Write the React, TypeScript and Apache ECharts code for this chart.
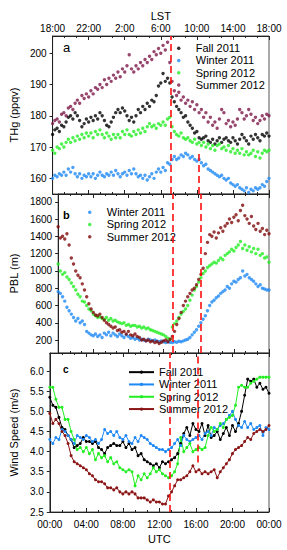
import React, { useEffect, useRef } from "react";
import * as echarts from "echarts";

// time step (hours) of the scatter panels (a, b) and of the wind-speed panel (c)
const STEP_AB = 0.25;
const STEP_C = 1 / 3;

const utcLabels = ["00:00", "04:00", "08:00", "12:00", "16:00", "20:00", "00:00"];
const lstLabels = ["18:00", "22:00", "2:00", "6:00", "10:00", "14:00", "18:00"];
const thgTicks = [160, 170, 180, 190, 200];
const pblTicks = [200, 400, 600, 800, 1000, 1200, 1400, 1600, 1800];
const wsTicks = [2.5, 3.0, 3.5, 4.0, 4.5, 5.0, 5.5, 6.0];
const dashedUTC = [13.1, 16.2];

// Panel a: THg (ppqv)
const thgFall = [
  174, 175.5, 176, 175, 177, 176.5, 178, 179.5, 180, 179, 181, 180, 178.5, 176.5, 177.5, 179,
  178, 179.5, 178.5, 180, 179, 181, 180, 178.5, 177, 176.5, 178, 179.5, 181, 182, 181, 182.5,
  181.5, 180, 178.5, 179.5, 178, 180, 182, 181, 183, 182, 184, 183, 185, 184.5, 186.5, 189.5,
  190.5, 193.5, 191, 192, 190.5, 186, 184.5, 183, 182, 181, 179.5, 180, 178, 177, 176, 174.5,
  175, 173, 172.5, 173, 173.5, 172, 171.5, 172.5, 171, 172, 173, 171.5, 172.5, 173, 172, 171.5,
  173, 172, 171, 172.5, 174, 173, 172, 171, 173.5, 172.5, 174, 173, 172, 174, 173.5, 174.5, 173.5,
];
const thgWinter = [
  160, 161, 160.5, 161.5, 161, 162, 161, 163, 162, 163.5, 161.5, 160.5, 161.5, 160, 161, 160.5,
  161.5, 160.5, 161.5, 160, 161, 162, 161, 160.5, 161.5, 161, 162, 161, 162.5, 161.5, 160.5, 161.5,
  162, 161, 162.5, 161.5, 163, 161.5, 160.5, 161, 160, 161, 159.5, 160.5, 161.5, 160, 162, 163,
  162, 163.5, 162.5, 165, 164.5, 166, 167, 166, 166.5, 167.5, 167, 168, 167.5, 166.5, 167, 166,
  165.5, 166, 165, 164, 164.5, 163, 162.5, 162, 161.5, 161, 160.5, 161, 160, 159.5, 160, 158.5,
  158, 157.5, 158, 157, 156.5, 156, 157, 155.5, 156.5, 156, 157, 156.5, 157, 158, 157.5, 159, 160,
];
const thgSpring = [
  169, 168, 170, 169.5, 171, 170, 171.5, 172.5, 171.5, 173, 172, 173.5, 172.5, 174, 173, 174.5,
  173.5, 174.5, 173, 175, 174, 175.5, 174, 173, 174.5, 173.5, 172.5, 174, 173, 174, 173, 175,
  174, 175.5, 174, 173.5, 175, 174, 175.5, 174.5, 176, 175, 176.5, 177.5, 176.5, 177, 176, 177.5,
  177, 178, 177, 179, 179.5, 176.5, 175, 174, 173.5, 174.5, 173, 172.5, 173, 172, 171.5, 172.5,
  171, 171.5, 170.5, 171.5, 170, 171, 169.5, 170.5, 169, 170.5, 171, 169.5, 170, 169, 170.5, 168.5,
  169.5, 168, 169, 168, 169.5, 167.5, 168.5, 167.5, 168, 169, 167, 168.5, 166.5, 168, 169, 168.5, 169,
];
const thgSummer = [
  177.5, 178.5, 179, 178, 180.5, 181, 180, 182.5, 183, 182, 184, 185, 184, 186.5, 185.5, 187,
  186, 188, 187, 189, 188.5, 190, 189, 191.5, 190, 192, 191, 193, 192, 194, 192.5, 195,
  194, 196, 199.5, 195, 194, 196, 195, 197, 196, 198, 197, 199, 198, 200.5, 199.5, 201.5,
  200, 202.5, 201, 203.5, 197, 191, 188, 186.5, 187.5, 185, 186, 184, 185, 183, 184.5, 182,
  183.5, 181, 182, 179.5, 181, 178, 179.5, 177, 178, 176, 179, 182, 181, 177.5, 178.5, 176.5,
  178, 177, 179, 182, 181, 179, 180, 182, 180.5, 178.5, 179.5, 177.5, 178.5, 180, 179, 180.5, 180,
];

// Panel b: PBL (m)
const pblWinter = [
  760, 740, 700, 650, 580, 540, 500, 460, 420, 450, 400, 420, 380, 300, 280, 260,
  250, 270, 240, 260, 230, 280, 260, 290, 250, 280, 260, 240, 270, 250, 230, 260,
  240, 220, 230, 210, 220, 200, 210, 200, 190, 210, 200, 190, 200, 190, 180, 190,
  180, 170, 180, 175, 170, 180, 175, 185, 180, 190, 200, 210, 230, 260, 290, 320,
  360, 400, 440, 480, 540, 600, 640, 660, 690, 710, 740, 760, 780, 820, 800, 850,
  880, 870, 900, 920, 1000, 940, 960, 920, 900, 880, 850, 820, 840, 800, 790, 780, 780,
];
const pblSpring = [
  1080, 1000, 960, 980, 930, 900, 860, 820, 780, 730, 700, 650, 640, 600, 560, 540,
  500, 480, 460, 470, 450, 440, 460, 430, 450, 420, 430, 410, 400, 390, 400, 370,
  380, 360, 370, 370, 350, 360, 340, 350, 330, 340, 320, 310, 300, 290, 280, 270,
  260, 240, 220, 210, 350, 390, 420, 460, 500, 530, 560, 600, 660, 720, 780, 820,
  870, 920, 970, 1000, 1040, 1060, 1080, 1100, 1090, 1120, 1150, 1130, 1180, 1200, 1220, 1250,
  1230, 1270, 1300, 1340, 1260, 1300, 1240, 1280, 1220, 1260, 1200, 1250, 1180, 1200, 1150, 1160, 1100,
];
const pblSummer = [
  1510, 1380, 1400, 1370, 1430, 1300, 1150, 1080, 1000, 950, 920, 850, 780, 700, 620, 560,
  520, 490, 480, 500, 460, 430, 400, 380, 360, 340, 350, 310, 320, 290, 300, 270,
  300, 260, 250, 270, 240, 230, 200, 210, 190, 200, 180, 190, 170, 180, 160, 175,
  190, 200, 180, 210, 240, 300, 380, 450, 520, 600, 650, 700, 740, 780, 800, 840,
  900, 960, 1030, 1200, 1330, 1420, 1400, 1450, 1380, 1440, 1500, 1460, 1520, 1550, 1600, 1560,
  1620, 1650, 1580, 1700, 1760, 1640, 1600, 1550, 1630, 1520, 1480, 1550, 1460, 1490, 1420, 1470, 1430,
];

// Panel c: Wind speed (m/s)
const wsFall = [
  5.35, 5.15, 5.1, 4.85, 4.6, 4.55, 4.4, 4.3, 4.1, 4.15, 4.2, 4.35, 4.25, 4.25, 4.2, 4.25,
  4.1, 4.05, 3.95, 4.1, 4.15, 4.2, 4.15, 4.15, 4.25, 4.1, 4.2, 4.05, 4.1, 3.9, 3.95, 3.8,
  3.75, 3.7, 3.65, 3.7, 3.6, 3.75, 3.7, 3.75, 3.8, 3.85, 3.95, 4.2, 4.45, 4.6, 4.4, 4.7,
  4.55, 4.5, 4.7, 4.4, 4.65, 4.35, 4.4, 4.5, 4.3, 4.45, 4.6, 4.4, 4.65, 4.5, 4.7, 5.0,
  5.4, 5.8, 5.75, 5.8, 5.6, 5.7, 5.55, 5.6, 5.45,
];
const wsWinter = [
  4.3, 4.2, 4.35, 4.3, 4.55, 4.5, 4.4, 4.3, 4.2, 4.4, 4.35, 4.3, 4.4, 4.35, 4.25, 4.3,
  4.2, 4.3, 4.55, 4.45, 4.5, 4.4, 4.5, 4.35, 4.3, 4.4, 4.25, 4.2, 4.35, 4.25, 4.4, 4.35,
  4.3, 4.2, 4.15, 4.1, 4.05, 4.05, 4.0, 4.05, 4.1, 4.2, 4.3, 4.15, 4.4, 4.3, 4.25, 4.3,
  4.35, 4.4, 4.3, 4.45, 4.5, 4.4, 4.6, 4.55, 4.65, 4.7, 4.8, 4.9, 5.0, 4.8, 4.65, 4.6,
  4.75, 4.6, 4.7, 4.55, 4.6, 4.65, 4.4, 4.6, 4.55,
];
const wsSpring = [
  5.6, 5.6, 5.3, 5.1, 5.1, 4.8, 4.8, 4.5, 4.3, 4.05, 4.1, 4.0, 4.1, 3.95, 4.05, 3.8,
  3.95, 3.85, 3.9, 3.75, 3.85, 3.7, 3.75, 3.6, 3.55, 3.5, 3.55, 3.5, 3.15, 3.4, 3.3, 3.45,
  3.35, 3.45, 3.6, 3.5, 3.55, 3.45, 3.4, 3.35, 3.4, 3.5, 3.7, 4.35, 4.0, 4.1, 4.2, 4.0,
  4.05, 4.1, 4.05, 4.1, 4.4, 4.6, 4.5, 4.55, 4.7, 4.6, 4.8, 4.85, 4.9, 5.15, 5.6, 5.65,
  5.6, 5.6, 5.7, 5.75, 5.8, 5.85, 5.85, 5.85, 5.85,
];
const wsSummer = [
  4.95, 4.7, 4.8, 4.7, 4.5, 4.4, 4.2, 3.9, 3.75, 3.7, 3.65, 3.6, 3.55, 3.45, 3.4, 3.3,
  3.25, 3.25, 3.2, 3.1, 3.1, 3.05, 3.1, 3.0, 2.95, 3.0, 2.95, 3.0, 2.95, 2.85, 2.85, 2.85,
  2.8, 2.75, 2.8, 2.75, 2.75, 2.7, 2.7, 2.9, 3.0, 3.15, 3.3, 3.3, 3.35, 3.4, 3.5, 3.65,
  3.5, 3.55, 3.45, 3.5, 3.45, 3.5, 3.55, 3.35, 3.5, 3.6, 3.7, 3.8, 3.95, 4.05, 4.1, 4.15,
  4.25, 4.35, 4.3, 4.45, 4.5, 4.55, 4.5, 4.55, 4.65,
];

const FONT = 'Arial, "Liberation Sans", sans-serif';
const C_FALL = "#000000";
const C_WINTER = "#1e88f5";
const C_SPRING = "#22ee22";
const C_SUMMER_A = "#7d1848";
const C_SUMMER_B = "#7f0a0a";
const C_SUMMER_C = "#8b1414";

const toXY = (arr: number[], step: number) => arr.map((v, i) => [i * step, v]);

export default function App() {
  const ref = useRef<HTMLDivElement>(null);
  useEffect(() => {
    document.body.style.margin = "0";
    if (!ref.current) return;
    const chart = echarts.init(ref.current, null, { renderer: "svg" });

    const L = 48;
    const W = 221;
    const grids = [
      { top: 36, height: 158 },
      { top: 194, height: 159 },
      { top: 353, height: 159 },
    ];
    const ranges = [
      { min: 155, max: 205.5, ticks: thgTicks, name: "THg (ppqv)", gap: 28, fmt: (v: number) => String(v) },
      { min: 50, max: 1890, ticks: pblTicks, name: "PBL (m)", gap: 33, fmt: (v: number) => String(v) },
      { min: 2.5, max: 6.45, ticks: wsTicks, name: "Wind Speed (m/s)", gap: 26, fmt: (v: number) => v.toFixed(1) },
    ];

    const xAxes: any[] = [];
    grids.forEach((_, i) => {
      const base = {
        gridIndex: i,
        type: "value",
        min: 0,
        max: 24,
        interval: 4,
        splitLine: { show: false },
        axisLine: { show: true, lineStyle: { color: "#222", width: 1 } },
        axisTick: { show: true, inside: true, length: 4, lineStyle: { color: "#222" } },
        minorTick: { show: true, splitNumber: 3, length: 2, lineStyle: { color: "#222" } },
      };
      xAxes.push({
        ...base,
        position: "bottom",
        axisLabel: {
          show: i === 2,
          margin: 7,
          fontSize: 10,
          fontFamily: FONT,
          color: "#000",
          formatter: (v: number) => utcLabels[Math.round(v / 4)],
        },
        name: i === 2 ? "UTC" : "",
        nameLocation: "middle",
        nameGap: 21,
        nameTextStyle: { fontSize: 11, fontFamily: FONT, color: "#000" },
      });
      xAxes.push({
        ...base,
        position: "top",
        axisLabel: {
          show: i === 0,
          margin: 3,
          fontSize: 10,
          fontFamily: FONT,
          color: "#000",
          formatter: (v: number) => lstLabels[Math.round(v / 4)],
        },
        name: i === 0 ? "LST" : "",
        nameLocation: "middle",
        nameGap: 15,
        nameTextStyle: { fontSize: 11, fontFamily: FONT, color: "#000" },
      });
    });

    const yAxes = ranges.map((r, i) => ({
      gridIndex: i,
      type: "value",
      min: r.min,
      max: r.max,
      splitLine: { show: false },
      axisLine: { show: true, lineStyle: { color: "#222" } },
      axisTick: { show: true, length: 3, customValues: r.ticks, lineStyle: { color: "#222" } },
      axisLabel: {
        customValues: r.ticks,
        margin: 6,
        fontSize: 10,
        fontFamily: FONT,
        color: "#000",
        formatter: r.fmt,
      },
      name: r.name,
      nameLocation: "middle",
      nameGap: r.gap,
      nameTextStyle: { fontSize: 11, fontFamily: FONT, color: "#000" },
    }));

    const dashStyle = { color: "#ff1010", type: [7, 4], width: 1.6 };
    const scatter = (name: string, data: number[], color: string, gi: number, extra: any = {}) => ({
      name,
      type: "scatter",
      xAxisIndex: gi * 2,
      yAxisIndex: gi,
      symbol: "circle",
      symbolSize: 3.4,
      itemStyle: { color },
      data: toXY(data, STEP_AB),
      ...extra,
    });
    const line = (name: string, data: number[], color: string, extra: any = {}) => ({
      name,
      type: "line",
      xAxisIndex: 4,
      yAxisIndex: 2,
      symbol: "circle",
      symbolSize: 3,
      showSymbol: true,
      lineStyle: { color, width: 1 },
      itemStyle: { color },
      data: toXY(data, STEP_C),
      ...extra,
    });
    const mkLine = (data: any[]) => ({
      markLine: { silent: true, symbol: "none", label: { show: false }, lineStyle: dashStyle, data },
    });

    const series = [
      scatter("a|Summer 2012", thgSummer, C_SUMMER_A, 0),
      scatter("a|Fall 2011", thgFall, C_FALL, 0),
      scatter("a|Spring 2012", thgSpring, C_SPRING, 0),
      scatter(
        "a|Winter 2011",
        thgWinter,
        C_WINTER,
        0,
        mkLine([
          { xAxis: dashedUTC[0] },
          [{ coord: [dashedUTC[1], 155] }, { coord: [dashedUTC[1], 169] }],
        ])
      ),
      scatter("b|Winter 2011", pblWinter, C_WINTER, 1),
      scatter("b|Spring 2012", pblSpring, C_SPRING, 1),
      scatter(
        "b|Summer 2012",
        pblSummer,
        C_SUMMER_B,
        1,
        mkLine([{ xAxis: dashedUTC[0] }, { xAxis: dashedUTC[1] }])
      ),
      line("c|Fall 2011", wsFall, C_FALL),
      line("c|Winter 2011", wsWinter, C_WINTER),
      line("c|Spring 2012", wsSpring, C_SPRING),
      line(
        "c|Summer 2012",
        wsSummer,
        C_SUMMER_C,
        mkLine([
          { xAxis: dashedUTC[0] },
          [{ coord: [dashedUTC[1], 3.73] }, { coord: [dashedUTC[1], 6.45] }],
        ])
      ),
    ];

    const legendBase = {
      orient: "vertical",
      itemGap: 0,
      padding: 0,
      selectedMode: false,
      formatter: (n: string) => n.split("|")[1],
      textStyle: { fontSize: 11, fontFamily: FONT, color: "#000", lineHeight: 12.3, padding: [0, 0, 0, 0] },
    };

    chart.setOption({
      animation: false,
      backgroundColor: "#fff",
      textStyle: { fontFamily: FONT },
      grid: grids.map((g) => ({
        left: L,
        width: W,
        top: g.top,
        height: g.height,
        show: true,
        borderColor: "#555",
        borderWidth: 1,
        containLabel: false,
      })),
      xAxis: xAxes,
      yAxis: yAxes,
      title: [
        { text: "a", left: 63, top: 41, padding: 0, textStyle: { fontSize: 13, fontWeight: "normal", color: "#000", fontFamily: FONT } },
        { text: "b", left: 63, top: 209, padding: 0, textStyle: { fontSize: 11, fontWeight: "bold", color: "#000", fontFamily: FONT } },
        { text: "c", left: 63, top: 364, padding: 0, textStyle: { fontSize: 10, fontWeight: "bold", color: "#000", fontFamily: FONT } },
      ],
      legend: [
        {
          ...legendBase,
          left: 177,
          top: 42,
          itemWidth: 24,
          itemHeight: 3.5,
          data: ["a|Fall 2011", "a|Winter 2011", "a|Spring 2012", "a|Summer 2012"],
        },
        {
          ...legendBase,
          left: 88,
          top: 206,
          itemWidth: 24,
          itemHeight: 3.5,
          data: ["b|Winter 2011", "b|Spring 2012", "b|Summer 2012"],
        },
        {
          ...legendBase,
          left: 128,
          top: 366,
          itemWidth: 25,
          itemHeight: 4,
          data: ["c|Fall 2011", "c|Winter 2011", "c|Spring 2012", "c|Summer 2012"],
        },
      ],
      series,
    });
    return () => chart.dispose();
  }, []);
  return <div ref={ref} style={{ width: 287, height: 550 }} />;
}
